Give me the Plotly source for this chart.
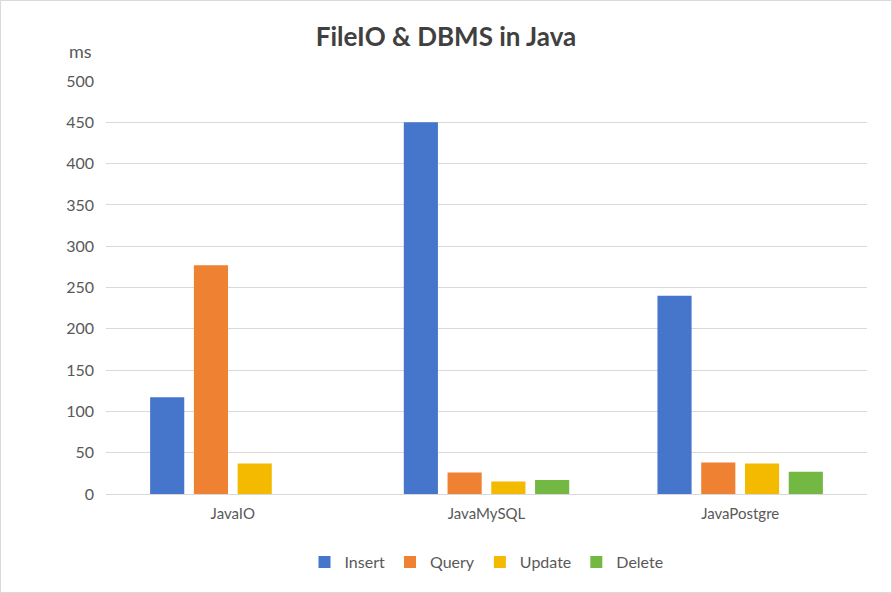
import plotly.graph_objects as go

categories = ["JavaIO", "JavaMySQL", "JavaPostgre"]
insert = [117, 450, 240]
query = [277, 26, 38]
update = [37, 15, 37]
delete = [0, 17, 27]

series = [
    ("Insert", insert, "#4675CC"),
    ("Query", query, "#EE8232"),
    ("Update", update, "#F3BA00"),
    ("Delete", delete, "#72B843"),
]

fig = go.Figure()
for name, vals, color in series:
    fig.add_trace(go.Bar(name=name, x=categories, y=vals, marker_color=color,
                         marker_line_width=0))

W, H = 892, 593
ml, mr, mt, mb = 106, 25, 81, 99
pw, ph = W - ml - mr, H - mt - mb

fig.update_layout(
    width=W, height=H,
    margin=dict(l=ml, r=mr, t=mt, b=mb),
    paper_bgcolor="white", plot_bgcolor="white",
    font=dict(family="Lato, 'Open Sans', sans-serif", color="#595959", size=15),
    title=dict(text="<b>FileIO & DBMS in Java</b>", x=0.5, xanchor="center",
               y=1 - 37 / H, yanchor="middle",
               font=dict(size=26, color="#404040")),
    barmode="group", bargap=0.31, bargroupgap=0.22,
    legend=dict(orientation="h", x=0.5, xanchor="center", y=-(562 - 494) / ph,
                yanchor="middle", font=dict(size=16, color="#595959"),
                itemwidth=30, traceorder="normal"),
    xaxis=dict(showgrid=False, showline=True, linecolor="#d9d9d9", linewidth=1,
               ticks="", ticklabelstandoff=6,
               tickfont=dict(size=15, color="#595959")),
    yaxis=dict(range=[0, 500], dtick=50, showgrid=True, gridcolor="#d9d9d9",
               gridwidth=1, zeroline=False, showline=False, ticks="",
               ticklabelstandoff=11, tickfont=dict(size=16, color="#595959")),
    shapes=[dict(type="rect", xref="paper", yref="paper",
                 x0=(0.5 - ml) / pw, x1=(W - 0.5 - ml) / pw,
                 y0=(mt + ph - (H - 0.5)) / ph, y1=(mt + ph - 0.5) / ph,
                 line=dict(color="#d9d9d9", width=1), fillcolor="rgba(0,0,0,0)",
                 layer="below")],
    annotations=[dict(text="ms", xref="paper", yref="paper",
                      x=(80 - ml) / pw, y=(mt + ph - 51) / ph,
                      xanchor="center", yanchor="middle", showarrow=False,
                      font=dict(size=18, color="#595959"))],
)

fig.write_html("out.html", config={"displayModeBar": False},
               post_script="document.body.style.margin='0';document.body.style.padding='0';")
